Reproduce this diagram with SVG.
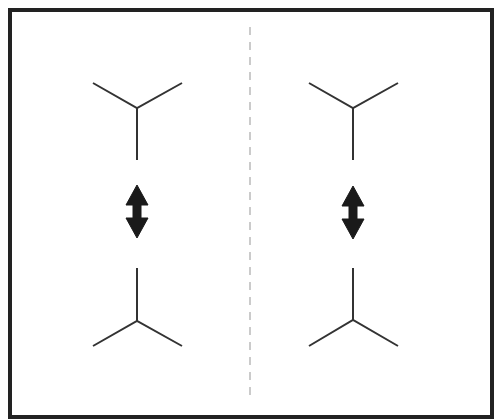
<svg xmlns="http://www.w3.org/2000/svg" width="495" height="420" viewBox="0 0 495 420">
<style>
.frame{fill:#fff;stroke:#222;stroke-width:4}
.div{stroke:#bbb;stroke-width:1.5;stroke-dasharray:8 7;fill:none}
.y{stroke:#333;stroke-width:2;fill:none;stroke-linecap:butt;stroke-linejoin:miter}
.arr{fill:#1a1a1a;stroke:#1a1a1a;stroke-width:1;stroke-linejoin:round}
</style>
<defs>
<path id="arrow" class="arr" d="M0,0 L11,20 L4,20 L4,33 L11,33 L0,53 L-11,33 L-4,33 L-4,20 L-11,20 Z"/>
</defs>
<rect class="frame" x="10" y="10" width="482" height="407"/>
<line class="div" x1="250" y1="27" x2="250" y2="398"/>
<g id="left-top"><path class="y" d="M93,83 L137,108 L182,83 M137,108 L137,160"/></g>
<g id="left-bottom"><path class="y" d="M93,346 L137,321 L182,346 M137,321 L137,268"/></g>
<g id="right-top"><path class="y" d="M309,83 L353,108 L398,83 M353,108 L353,160"/></g>
<g id="right-bottom"><path class="y" d="M309,346 L353,320 L398,346 M353,320 L353,268"/></g>
<g id="connectors">
<use href="#arrow" x="137" y="185"/>
<use href="#arrow" x="353" y="186"/>
</g>
</svg>
